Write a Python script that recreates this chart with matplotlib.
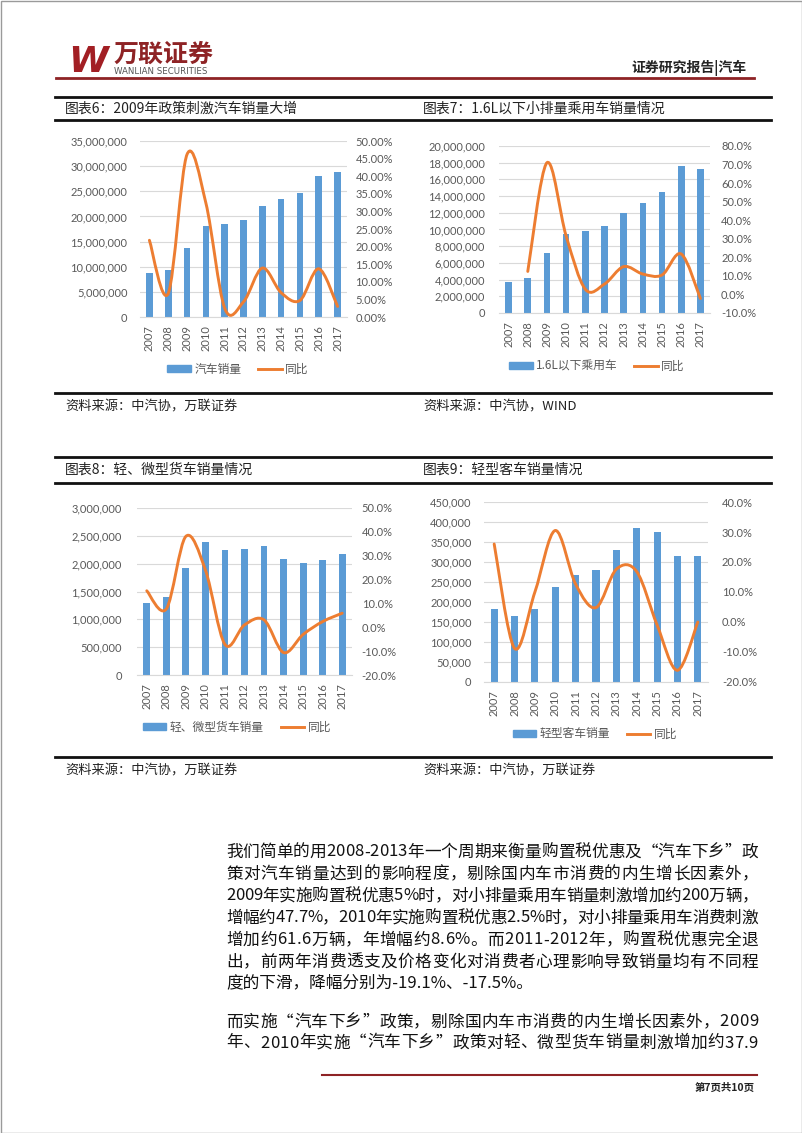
import numpy as np
import matplotlib
matplotlib.use("Agg")
import matplotlib.pyplot as plt
from matplotlib.path import Path
from matplotlib.patches import PathPatch, Patch, Rectangle
from matplotlib.lines import Line2D
from matplotlib.ticker import FuncFormatter, MultipleLocator

plt.rcParams['font.family'] = ['Noto Sans CJK SC', 'DejaVu Sans']

W, H = 802, 1133
BLUE = '#5B9BD5'
ORANGE = '#ED7D31'
GRID = '#D9D9D9'
TICK = '#595959'

years = [str(y) for y in range(2007, 2018)]

# chart 6: auto sales
auto_sales = [8.79e6, 9.38e6, 13.64e6, 18.06e6, 18.51e6, 19.31e6, 21.98e6, 23.49e6, 24.60e6, 28.03e6, 28.88e6]
auto_yoy = [21.8, 6.7, 46.2, 32.4, 2.5, 4.3, 13.9, 6.9, 4.7, 13.7, 3.0]
# chart 7: 1.6L and below passenger cars
small_sales = [3.72e6, 4.25e6, 7.17e6, 9.44e6, 9.88e6, 10.40e6, 11.95e6, 13.15e6, 14.50e6, 17.60e6, 17.20e6]
small_yoy = [None, 12.4, 71.0, 31.5, 2.8, 5.6, 15.0, 11.0, 10.5, 21.8, -2.2]
# chart 8: light / mini trucks
truck_sales = [1.29e6, 1.40e6, 1.93e6, 2.39e6, 2.24e6, 2.26e6, 2.32e6, 2.08e6, 2.01e6, 2.06e6, 2.18e6]
truck_yoy = [15.3, 7.7, 38.1, 24.0, -7.2, 1.0, 3.1, -10.6, -3.0, 2.4, 5.9]
# chart 9: light buses
bus_sales = [182e3, 166e3, 182e3, 238e3, 268e3, 280e3, 330e3, 386e3, 376e3, 315e3, 315e3]
bus_yoy = [26.0, -8.8, 10.0, 30.5, 12.6, 4.8, 17.6, 16.8, -1.0, -16.1, 0.0]

captions = ['图表6：2009年政策刺激汽车销量大增', '图表7：1.6L以下小排量乘用车销量情况',
            '图表8：轻、微型货车销量情况', '图表9：轻型客车销量情况']
sources = ['资料来源：中汽协，万联证券', '资料来源：中汽协，WIND',
           '资料来源：中汽协，万联证券', '资料来源：中汽协，万联证券']

body = [
    "我们简单的用2008-2013年一个周期来衡量购置税优惠及“汽车下乡”政",
    "策对汽车销量达到的影响程度，剔除国内车市消费的内生增长因素外，",
    "2009年实施购置税优惠5%时，对小排量乘用车销量刺激增加约200万辆，",
    "增幅约47.7%，2010年实施购置税优惠2.5%时，对小排量乘用车消费刺激",
    "增加约61.6万辆，年增幅约8.6%。而2011-2012年，购置税优惠完全退",
    "出，前两年消费透支及价格变化对消费者心理影响导致销量均有不同程",
    "度的下滑，降幅分别为-19.1%、-17.5%。",
    "而实施“汽车下乡”政策，剔除国内车市消费的内生增长因素外，2009",
    "年、2010年实施“汽车下乡”政策对轻、微型货车销量刺激增加约37.9",
]
body_y = [852, 874, 896, 918, 940, 962, 983, 1022, 1043]
body_justify = [True, True, True, True, True, True, False, True, True]


def smooth_path(xs, ys):
    # excel-like smoothed line (catmull-rom through the points)
    p = np.array([(x, y) for x, y in zip(xs, ys) if y is not None], float)
    n = len(p)
    verts = [p[0]]
    codes = [Path.MOVETO]
    for i in range(n - 1):
        p0 = p[i - 1] if i > 0 else p[i]
        p3 = p[i + 2] if i + 2 < n else p[i + 1]
        verts += [p[i] + (p[i + 1] - p0) / 6, p[i + 1] - (p3 - p[i]) / 6, p[i + 1]]
        codes += [Path.CURVE4] * 3
    return Path(verts, codes)


fig = plt.figure(figsize=(W / 100, H / 100), dpi=100)
bg = fig.add_axes([0, 0, 1, 1])
bg.set_xlim(0, W)
bg.set_ylim(H, 0)
bg.axis('off')


def draw_chart(rect, bars, yoy, lmax, lstep, rmin, rmax, rstep, rdec, label, lpad, rpad, leg):
    x0, y0, x1, y1 = rect
    ax = fig.add_axes([x0 / W, 1 - y1 / H, (x1 - x0) / W, (y1 - y0) / H])
    x = np.arange(len(years))
    ax.bar(x, bars, width=0.35, color=BLUE, zorder=2)
    ax.set_xlim(-0.5, len(years) - 0.5)
    ax.set_ylim(0, lmax)
    ax.yaxis.set_major_locator(MultipleLocator(lstep))
    ax.yaxis.set_major_formatter(FuncFormatter(lambda v, p: f'{v:,.0f}'))
    ax.grid(axis='y', color=GRID, lw=0.8, zorder=0)
    ax.set_axisbelow(True)
    ax.set_xticks(x, years, rotation=90)
    for s in ['top', 'right', 'left']:
        ax.spines[s].set_visible(False)
    ax.spines['bottom'].set_color(GRID)
    ax.tick_params(length=0, colors=TICK, labelsize=8, labelfontfamily='Lato')
    ax.tick_params(axis='y', pad=lpad)
    ax.tick_params(axis='x', pad=6)

    ax2 = ax.twinx()
    ax2.set_ylim(rmin, rmax)
    ax2.yaxis.set_major_locator(MultipleLocator(rstep))
    ax2.yaxis.set_major_formatter(FuncFormatter(lambda v, p: f'{v:.{rdec}f}%'))
    for s in ax2.spines.values():
        s.set_visible(False)
    ax2.tick_params(length=0, colors=TICK, labelsize=8, labelfontfamily='Lato', pad=rpad)
    ax2.add_patch(PathPatch(smooth_path(x, yoy), fill=False, ec=ORANGE, lw=2.1,
                            capstyle='round', joinstyle='round'))

    handles = [Patch(color=BLUE), Line2D([], [], color=ORANGE, lw=2.1)]
    fig.legend(handles, [label, '同比'], loc='center', bbox_to_anchor=(leg[0] / W, 1 - leg[1] / H),
               ncol=2, frameon=False, fontsize=8.5, handlelength=2.0, handleheight=0.55,
               columnspacing=1.4, handletextpad=0.3, labelcolor=TICK)


draw_chart((140, 141, 347, 317), auto_sales, auto_yoy, 35e6, 5e6, 0, 50, 5, 2, '汽车销量', 9, 6, (238, 369))
draw_chart((499, 146, 710, 313), small_sales, small_yoy, 20e6, 2e6, -10, 80, 10, 1, '1.6L以下乘用车', 10, 8, (597, 366))
draw_chart((137, 508, 352, 675), truck_sales, truck_yoy, 3e6, 5e5, -20, 50, 10, 1, '轻、微型货车销量', 11, 7, (237, 727))
draw_chart((484, 502, 708, 682), bus_sales, bus_yoy, 450e3, 50e3, -20, 40, 10, 1, '轻型客车销量', 9, 10, (595, 734))

# page border
bg.add_patch(Rectangle((0.5, 0.5), W - 1, H - 1, fill=False, ec='#9A9A9A', lw=1))

# header logo
bg.text(68, 62, 'W', fontsize=26, fontweight='bold', style='italic', color='#A21F24',
        family='DejaVu Sans', va='center', ha='left')
bg.text(114, 55, '万联证券', fontsize=18, fontweight='bold', color='#8E2325', va='center', ha='left')
bg.text(114, 72, 'WANLIAN SECURITIES', fontsize=6.2, color='#555555', va='center', ha='left',
        family='DejaVu Sans')
bg.text(747, 68, '证券研究报告|汽车', fontsize=10, fontweight='bold', color='#222222',
        va='center', ha='right')
bg.plot([56, 754], [78, 78], color='#8E2325', lw=2)

# caption bands
for ytop, ybot, ysrc, capl, capr, srcl, srcr in [(97, 120, 393, captions[0], captions[1], sources[0], sources[1]),
                                                  (457, 483, 757, captions[2], captions[3], sources[2], sources[3])]:
    for yy in (ytop, ybot, ysrc):
        bg.plot([55, 771], [yy, yy], color='#111111', lw=2)
    ymid = (ytop + ybot) / 2
    bg.text(65, ymid, capl, fontsize=10, color='#222222', va='center', ha='left')
    bg.text(423, ymid, capr, fontsize=10, color='#222222', va='center', ha='left')
    bg.text(65, ysrc + 14, srcl, fontsize=9.5, style='italic', color='#222222', va='center', ha='left')
    bg.text(423, ysrc + 14, srcr, fontsize=9.5, style='italic', color='#222222', va='center', ha='left')

# body text, justified like the source document
renderer = fig.canvas.get_renderer()
x_left, x_right = 226, 758
for line, yy, just in zip(body, body_y, body_justify):
    if not just:
        bg.text(x_left, yy, line, fontsize=12, color='#111111', va='center', ha='left')
        continue
    arts = [bg.text(0, yy, ch, fontsize=12, color='#111111', va='center', ha='left') for ch in line]
    widths = [a.get_window_extent(renderer).width for a in arts]
    gap = (x_right - x_left - sum(widths)) / (len(arts) - 1)
    pos = x_left
    for a, w in zip(arts, widths):
        a.set_x(pos)
        pos += w + gap

# footer
bg.plot([322, 757], [1075, 1075], color='#8E2325', lw=1.5)
bg.text(755, 1088, '第7页共10页', fontsize=7.5, fontweight='bold', color='#222222', va='center', ha='right')

fig.savefig('out.png', dpi=100)
